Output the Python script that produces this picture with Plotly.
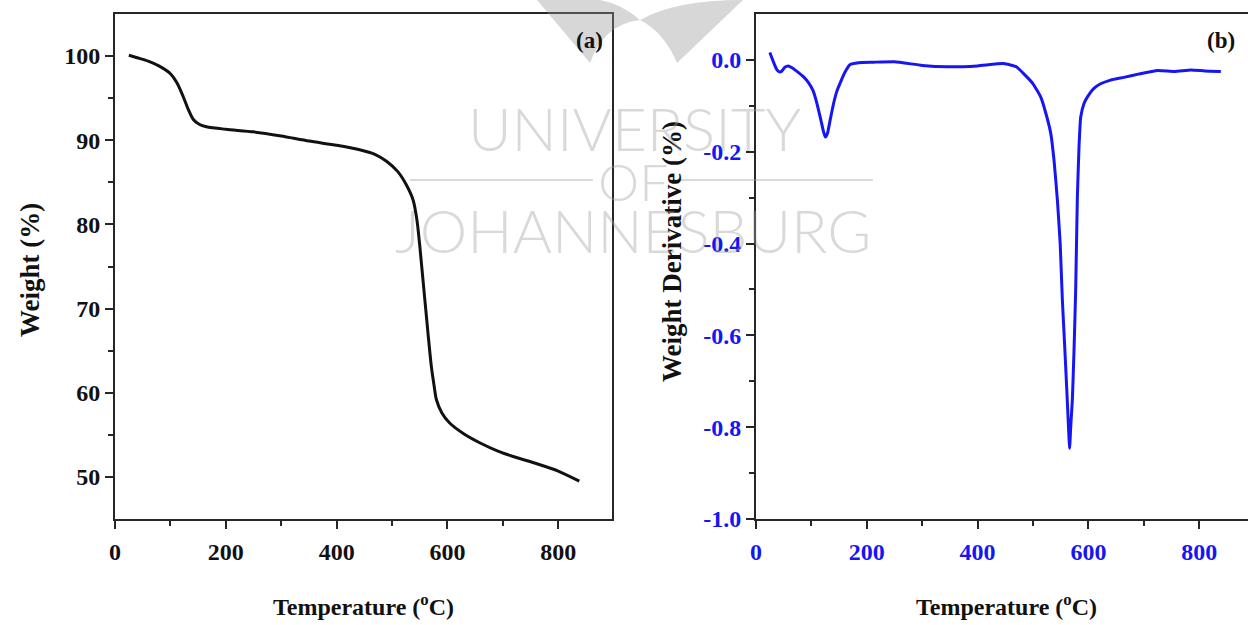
import plotly.graph_objects as go

W, H = 1248, 625

# ---------------- data ----------------
tga_temp = [25, 40, 60, 80, 100, 112, 123, 132, 141, 152, 165, 200, 250, 300, 350,
            400, 440, 470, 490, 510, 525, 538, 545, 550, 555, 560, 565, 571, 576,
            580, 590, 604, 630, 660, 690, 720, 760, 800, 838]
tga_weight = [100.1, 99.8, 99.4, 98.8, 97.9, 96.8, 95.2, 93.7, 92.5, 91.9, 91.6, 91.3,
              91.0, 90.5, 89.9, 89.4, 88.9, 88.3, 87.5, 86.3, 84.8, 82.9, 80.5, 77.5,
              74.0, 70.5, 67.0, 63.1, 60.8, 59.2, 57.6, 56.4, 55.1, 54.0, 53.1, 52.4,
              51.6, 50.7, 49.5]

dtg_temp = [25, 30, 37, 42, 46, 52, 58, 65, 74, 85, 95, 103, 110, 116, 121, 125, 129,
            134, 140, 146, 152, 160, 170, 185, 212, 250, 300, 345, 400, 447, 470, 483,
            500, 514, 524, 532, 538, 544, 549, 553, 557, 561, 564, 566, 568, 571, 574,
            577, 580, 583, 586, 592, 598, 610, 622, 640, 664, 690, 725, 755, 785, 810,
            839]
dtg_deriv = [0.016, 0.0, -0.020, -0.026, -0.025, -0.016, -0.013, -0.017, -0.025, -0.036,
             -0.050, -0.067, -0.095, -0.125, -0.152, -0.168, -0.160, -0.130, -0.095,
             -0.068, -0.050, -0.028, -0.010, -0.006, -0.005, -0.004, -0.012, -0.015,
             -0.013, -0.008, -0.015, -0.030, -0.052, -0.081, -0.120, -0.160, -0.220,
             -0.306, -0.400, -0.524, -0.620, -0.720, -0.800, -0.846, -0.800, -0.740,
             -0.632, -0.500, -0.300, -0.190, -0.125, -0.095, -0.081, -0.062, -0.052,
             -0.044, -0.038, -0.031, -0.023, -0.025, -0.022, -0.024, -0.025]

temp_ticks = [0, 200, 400, 600, 800]
temp_minor = [100, 300, 500, 700]
weight_ticks = [50, 60, 70, 80, 90, 100]
weight_minor = [55, 65, 75, 85, 95]
deriv_ticks = [-1.0, -0.8, -0.6, -0.4, -0.2, 0.0]
deriv_labels = ["-1.0", "-0.8", "-0.6", "-0.4", "-0.2", "0.0"]
deriv_minor = [-0.9, -0.7, -0.5, -0.3, -0.1]

SERIF = "Liberation Serif"
BLUE = "#1616f2"
AX = "#262626"


def px(x):
    return x / W


def py(y):
    return 1 - y / H


fig = go.Figure()
fig.add_trace(go.Scatter(x=tga_temp, y=tga_weight, mode="lines",
                         line=dict(color="#111111", width=3, shape="spline", smoothing=0.7),
                         xaxis="x", yaxis="y", showlegend=False, hoverinfo="skip"))
fig.add_trace(go.Scatter(x=dtg_temp, y=dtg_deriv, mode="lines",
                         line=dict(color=BLUE, width=3, shape="spline", smoothing=0.4),
                         xaxis="x2", yaxis="y2", showlegend=False, hoverinfo="skip"))


def axis(color, **kw):
    d = dict(showline=True, linecolor=AX, linewidth=2, ticks="outside", ticklen=8,
             tickwidth=2, tickcolor=AX, showgrid=False, zeroline=False,
             tickfont=dict(family=SERIF, size=24, color=color, weight="bold"),
             fixedrange=True, automargin=False)
    d.update(kw)
    return d


ydom = [py(519), py(14)]
fig.update_layout(
    width=W, height=H, margin=dict(l=0, r=0, t=0, b=0, autoexpand=False),
    paper_bgcolor="white", plot_bgcolor="white", showlegend=False,
    xaxis=axis("#111111", domain=[px(115), px(612)], range=[0, 897], anchor="y",
               mirror=True, tickvals=temp_ticks, ticklabelstandoff=2,
               minor=dict(tickvals=temp_minor, ticklen=5, tickwidth=2, ticks="outside",
                          tickcolor=AX)),
    yaxis=axis("#111111", domain=ydom, range=[45, 105], anchor="x", mirror=True,
               tickvals=weight_ticks, ticklabelstandoff=0,
               minor=dict(tickvals=weight_minor, ticklen=5, tickwidth=2, ticks="outside",
                          tickcolor=AX)),
    xaxis2=axis(BLUE, domain=[px(756), 1.0], range=[0, 888], anchor="y2",
                mirror=True, tickvals=temp_ticks, ticklabelstandoff=2,
                minor=dict(tickvals=temp_minor, ticklen=5, tickwidth=2, ticks="outside",
                           tickcolor=AX)),
    yaxis2=axis(BLUE, domain=ydom, range=[-1.0, 0.1], anchor="x2", mirror=False,
                tickvals=deriv_ticks, ticktext=deriv_labels, ticklabelstandoff=0,
                minor=dict(tickvals=deriv_minor, ticklen=5, tickwidth=2, ticks="outside",
                           tickcolor=AX)),
)

ann = []
title_font = dict(family=SERIF, size=24, color="#111111", weight="bold")
ytitle_font = dict(family=SERIF, size=27, color="#111111", weight="bold")
ann.append(dict(text="Weight (%)", x=px(30), y=py(270), textangle=-90, font=ytitle_font))
ann.append(dict(text="Weight Derivative (%)", x=px(672), y=py(252), textangle=-90,
                font=ytitle_font))
ann.append(dict(text="Temperature (<sup>o</sup>C)", x=px(363), y=py(605), font=title_font))
ann.append(dict(text="Temperature (<sup>o</sup>C)", x=px(1006), y=py(605), font=title_font))
ann.append(dict(text="(a)", x=px(589), y=py(40), font=dict(family=SERIF, size=23,
                                                          color="#111111", weight="bold")))
ann.append(dict(text="(b)", x=px(1221), y=py(40), font=dict(family=SERIF, size=23,
                                                           color="#111111", weight="bold")))

wm_font = dict(family="Lato Light, Lato, Open Sans", size=60, color="rgba(160,160,160,0.40)",
               weight=300)
ann.append(dict(text="UNIVERSITY", x=px(635), y=py(128), font=wm_font))
ann.append(dict(text="OF", x=px(633), y=py(181), font=dict(wm_font, size=52)))
ann.append(dict(text="JOHANNESBURG", x=px(633), y=py(230), font=wm_font))

for a in ann:
    a.update(xref="paper", yref="paper", showarrow=False, xanchor="center", yanchor="middle")
fig.update_layout(annotations=ann)

# watermark decoration (logo leaves and rules)
wm_fill = "rgba(150,150,150,0.38)"


def pt(x, y):
    return f"{px(x):.5f},{py(y):.5f}"


left_leaf = (f"M {pt(537, 0)} L {pt(600, 0)} Q {pt(622, 4)} {pt(640, 20)} "
             f"Q {pt(604, 24)} {pt(590, 63)} Z")
right_leaf = (f"M {pt(640, 20)} Q {pt(675, 0)} {pt(743, 0)} L {pt(677, 63)} "
              f"Q {pt(664, 32)} {pt(640, 20)} Z")

shapes = [
    dict(type="path", path=left_leaf, fillcolor=wm_fill, line=dict(width=0)),
    dict(type="path", path=right_leaf, fillcolor=wm_fill, line=dict(width=0)),
    dict(type="line", x0=px(410), x1=px(593), y0=py(180), y1=py(180),
         line=dict(color="rgba(160,160,160,0.40)", width=2)),
    dict(type="line", x0=px(673), x1=px(873), y0=py(180), y1=py(180),
         line=dict(color="rgba(160,160,160,0.40)", width=2)),
]
for s in shapes:
    s.update(xref="paper", yref="paper", layer="above")
fig.update_layout(shapes=shapes)

fig.write_html("out.html")
